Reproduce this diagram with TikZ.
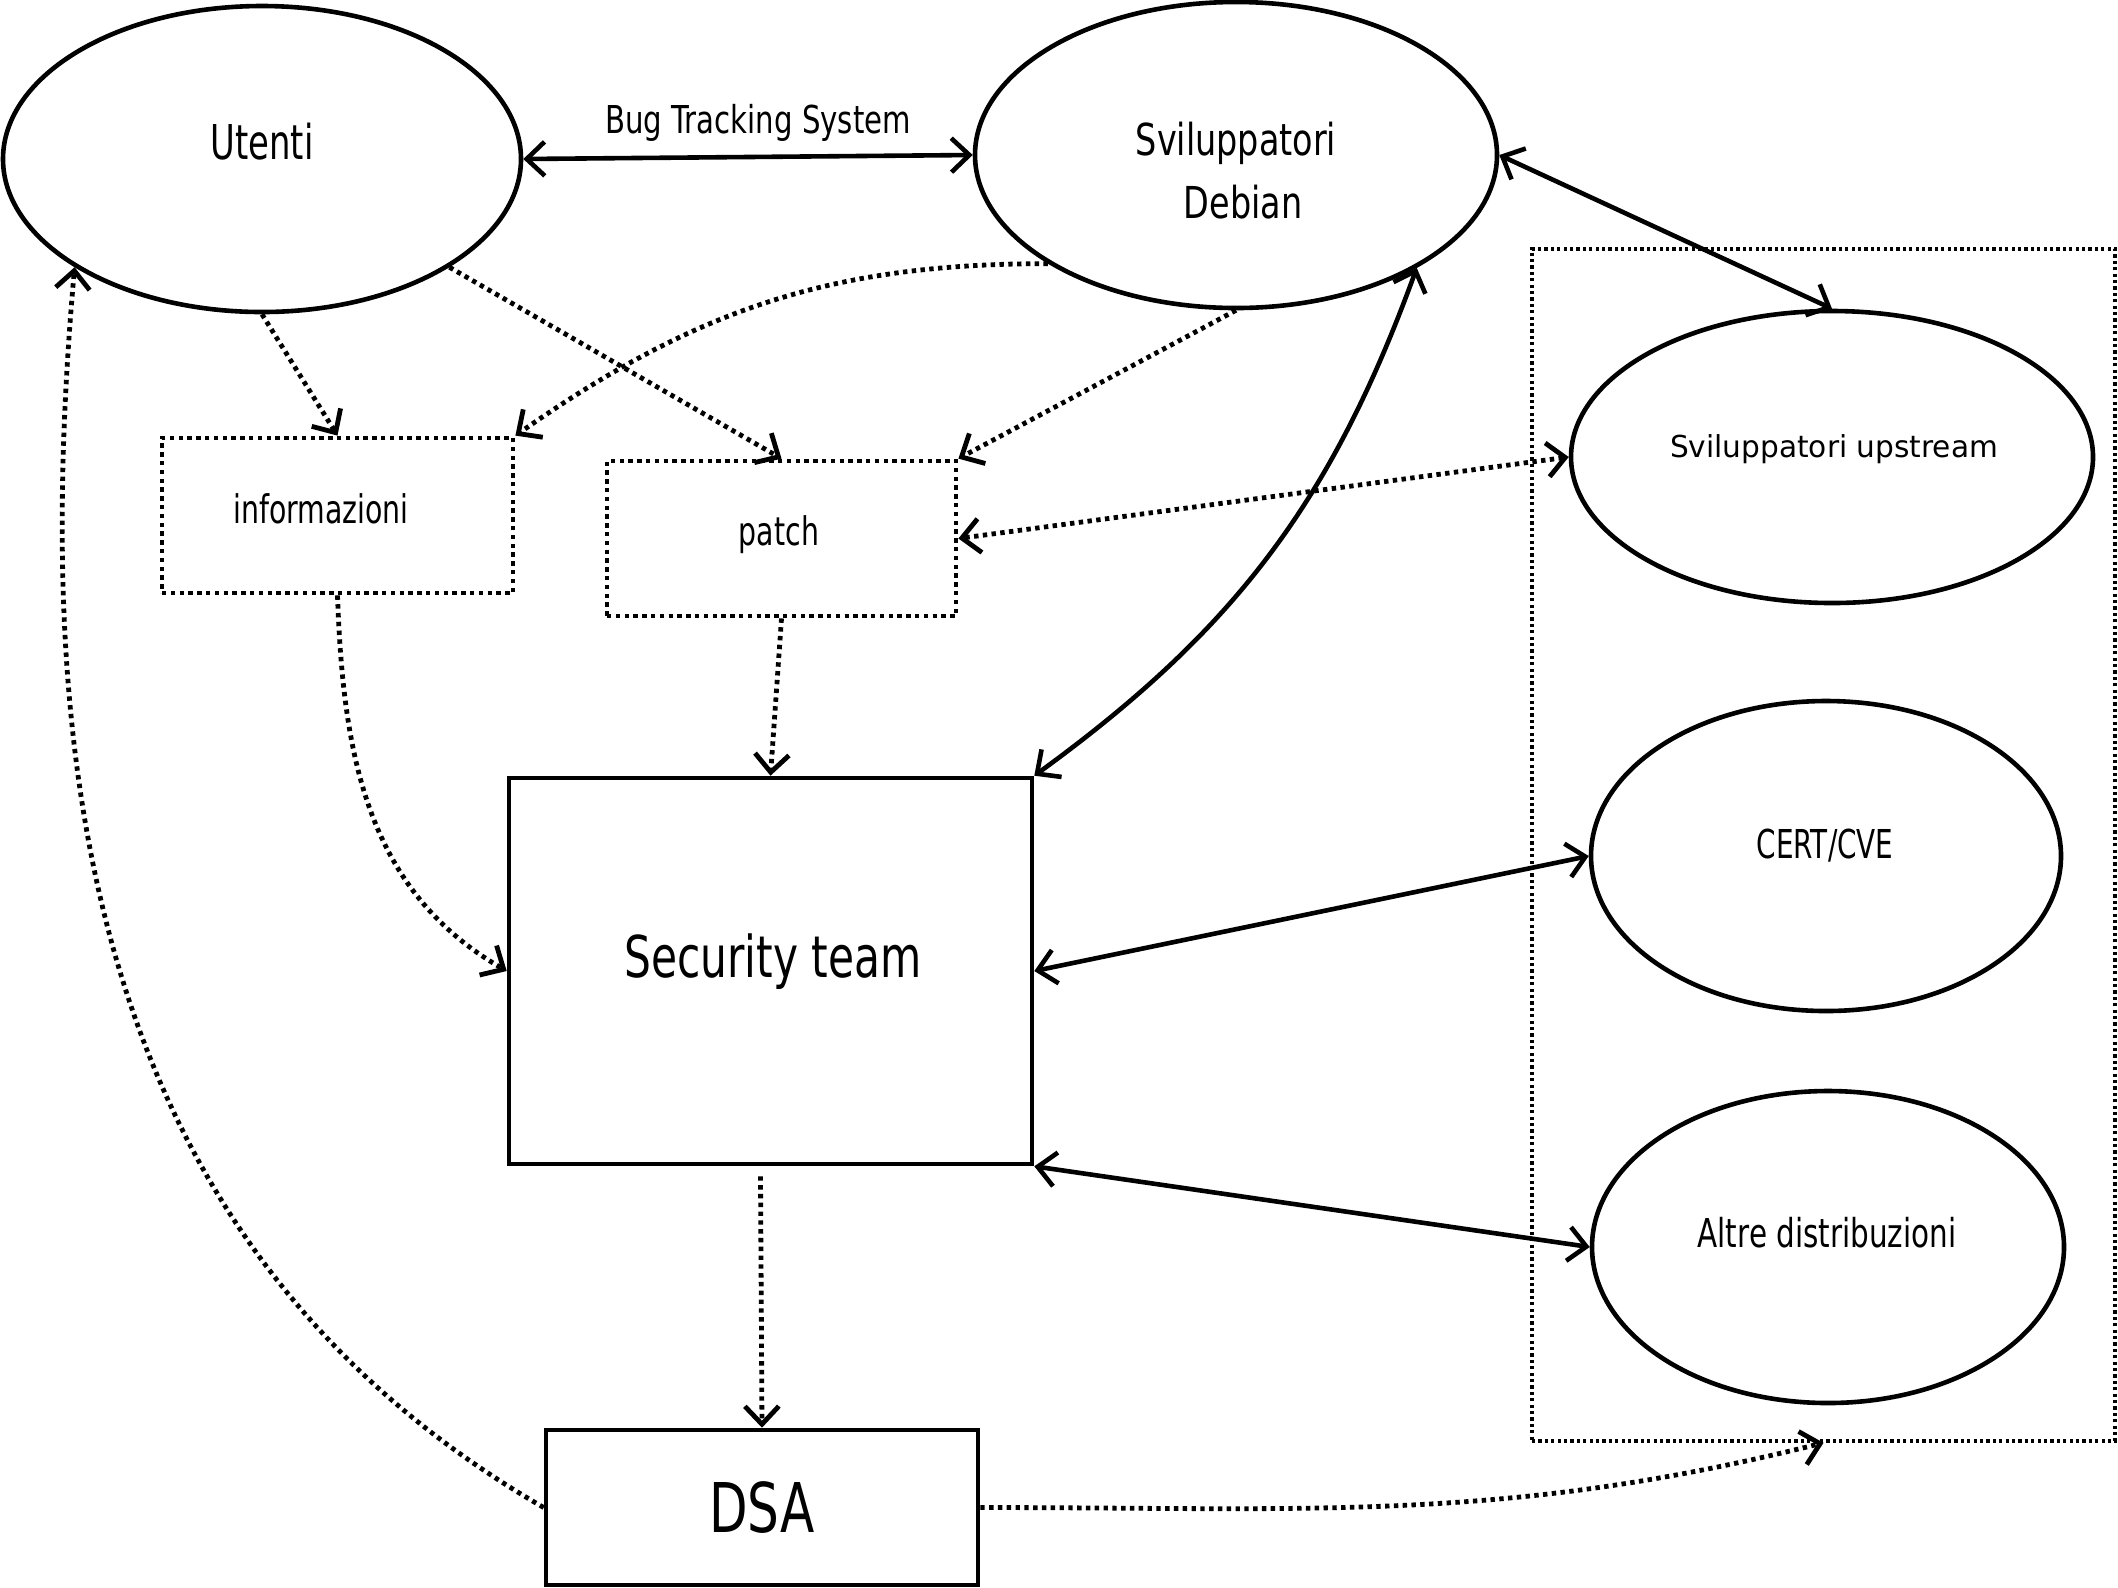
\documentclass[tikz,border=0pt]{standalone}
\usepackage{fontspec}
\usepackage{graphicx}
\setmainfont{DejaVu Sans}
\usetikzlibrary{shapes.geometric,arrows.meta}
\newcommand\sqz[3]{\fontsize{#1}{#1}\selectfont\scalebox{#2}[1]{#3}}
\begin{document}
\begin{tikzpicture}[x=0.5pt,y=-0.5pt,
  ell/.style={draw, ellipse, line width=2.3pt, inner sep=0pt},
  solidbox/.style={draw, rectangle, line width=2.3pt, inner sep=0pt},
  dotbox/.style={draw, rectangle, line width=2.4pt, dash pattern=on 2.2pt off 2.2pt, inner sep=0pt},
  extbox/.style={draw, rectangle, line width=1.8pt, dash pattern=on 1.6pt off 1.6pt, inner sep=0pt},
  txt/.style={anchor=base, inner sep=0pt},
  barb/.tip={Straight Barb[length=9pt,width=17pt]},
  biarr/.style={line width=2.3pt, barb-barb},
  dotarr/.style={line width=2.4pt, dash pattern=on 2.2pt off 2.2pt, -barb},
  dotbiarr/.style={line width=2.4pt, dash pattern=on 2.2pt off 2.2pt, barb-barb}
]
\useasboundingbox (0,0) rectangle (2118,1587);

% nodes
\node[ell, minimum width=259pt, minimum height=153pt] (u) at (262,159) {};
\node[ell, minimum width=261pt, minimum height=153pt] (d) at (1236,155) {};
\node[extbox, minimum width=291.5pt, minimum height=596pt] (ext) at (1823.5,845) {};
\node[ell, minimum width=261pt, minimum height=146pt] (up) at (1832,457) {};
\node[ell, minimum width=235pt, minimum height=155pt] (cert) at (1826,856) {};
\node[ell, minimum width=236pt, minimum height=156pt] (alt) at (1828,1247) {};
\node[dotbox, minimum width=175.5pt, minimum height=77.5pt] (inf) at (337.5,515.5) {};
\node[dotbox, minimum width=174.5pt, minimum height=77.5pt] (p) at (781.5,538.5) {};
\node[solidbox, minimum width=261.5pt, minimum height=193pt] (st) at (770.5,971) {};
\node[solidbox, minimum width=216pt, minimum height=77.5pt] (dsa) at (762,1507.5) {\sqz{34.3}{0.73}{DSA}};

% texts
\node[txt] (utxt) at (262,159) {\sqz{24}{0.705}{Utenti}};
\node[txt] (dtxt1) at (1236,155) {\sqz{22}{0.76}{Sviluppatori}};
\node[txt] (dtxt2) at (1243,218) {\sqz{22}{0.76}{Debian}};
\node[txt] (uptxt) at (1834,457) {\sqz{15.1}{0.98}{Sviluppatori upstream}};
\node[txt] (certtxt) at (1825,858) {\sqz{19.9}{0.70}{CERT/CVE}};
\node[txt] (alttxt) at (1827,1247) {\sqz{19.9}{0.74}{Altre distribuzioni}};
\node[txt] (inftxt) at (321,523) {\sqz{19.7}{0.72}{informazioni}};
\node[txt] (ptxt) at (779,545) {\sqz{19.7}{0.72}{patch}};
\node[txt] (sttxt) at (773,977) {\sqz{28.8}{0.735}{Security team}};
\node[txt] (bts) at (758,133) {\sqz{19.2}{0.76}{Bug Tracking System}};

% connectors
\draw[biarr] (u.east) -- (d.west);
\draw[biarr] (d.east) -- (up.north);
\draw[biarr] (d.-32) to[out=-110, in=36] (st.north east);
\draw[biarr] (st.east) -- (cert.west);
\draw[biarr] (st.south east) -- (alt.west);

\draw[dotarr] (u.south) -- (inf.north);
\draw[dotarr] (u.-30) -- (p.north);
\draw[dotarr] (d.210) to[out=180, in=35] (inf.north east);
\draw[dotarr] (d.south) -- (p.north east);
\draw[dotbiarr] (up.west) -- (p.east);
\draw[dotarr] (inf.south) to[out=-88, in=150] (st.west);
\draw[dotarr] (p.south) -- (st.north);
\draw[dotarr] ([xshift=-5pt,yshift=-5pt]st.south) -- (dsa.north);
\draw[dotarr] (dsa.west) to[out=150, in=-95] (u.210);
\draw[dotarr] (dsa.east) to[out=0, in=-166] (ext.south);
\end{tikzpicture}
\end{document}
